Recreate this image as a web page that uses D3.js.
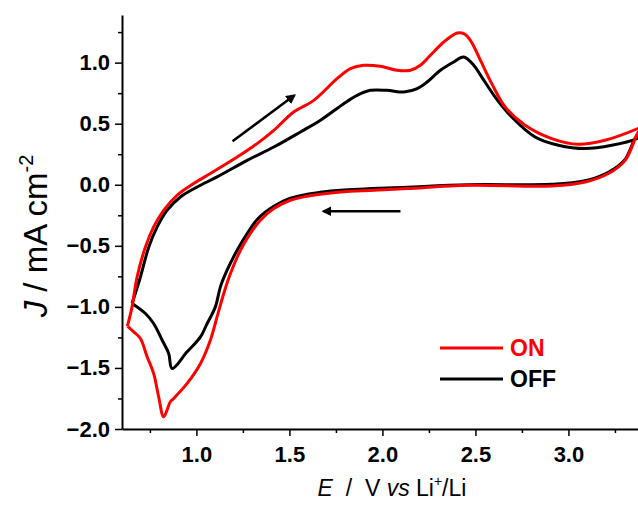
<!DOCTYPE html>
<html><head><meta charset="utf-8">
<script src="https://cdn.jsdelivr.net/npm/d3@7"></script>
<style>
body{margin:0;background:#fff;}
svg{display:block;font-family:"Liberation Sans",Arial,sans-serif;}
</style></head>
<body><svg id="c" width="638" height="506"></svg>
<script>
// ---- data (E in V vs Li+/Li, J in mA cm^-2), in scan order ----
const onE = [0.629,0.654,0.681,0.726,0.770,0.824,0.896,0.985,1.075,1.219,1.326,1.416,1.523,1.631,1.756,1.828,1.899,1.989,2.079,2.151,2.204,2.258,2.330,2.402,2.437,2.473,2.527,2.588,2.660,2.767,2.910,3.054,3.197,3.373,3.400,
  3.371,3.305,3.215,3.090,2.910,2.462,2.133,1.953,1.774,1.595,1.505,1.416,1.344,1.290,1.237,1.183,1.147,1.111,1.075,1.022,0.950,0.878,0.860,0.824,0.797,0.770,0.735,0.699,0.663,0.629];
const onJ = [-1.158,-1.000,-0.755,-0.509,-0.345,-0.209,-0.086,0.010,0.092,0.227,0.337,0.446,0.596,0.691,0.869,0.951,0.978,0.970,0.937,0.937,0.978,1.060,1.169,1.242,1.237,1.183,1.019,0.828,0.637,0.487,0.378,0.331,0.364,0.460,0.480,
  0.419,0.200,0.092,0.023,-0.010,-0.004,-0.031,-0.045,-0.059,-0.094,-0.127,-0.195,-0.291,-0.399,-0.536,-0.727,-0.890,-1.082,-1.273,-1.463,-1.627,-1.750,-1.777,-1.900,-1.736,-1.545,-1.409,-1.259,-1.205,-1.158];
const offE = [0.654,0.699,0.744,0.789,0.842,0.914,1.004,1.111,1.273,1.416,1.559,1.667,1.792,1.864,1.935,2.025,2.115,2.187,2.240,2.312,2.383,2.437,2.491,2.534,2.606,2.695,2.821,2.946,3.090,3.233,3.367,3.400,
  3.371,3.301,3.215,3.090,2.909,2.462,2.133,1.774,1.595,1.505,1.416,1.333,1.273,1.219,1.165,1.129,1.102,1.058,1.022,0.950,0.869,0.851,0.816,0.770,0.726,0.654];
const offJ = [-0.972,-0.755,-0.509,-0.345,-0.209,-0.100,-0.018,0.064,0.200,0.309,0.432,0.528,0.664,0.732,0.773,0.773,0.759,0.787,0.841,0.937,1.005,1.046,0.978,0.882,0.718,0.555,0.391,0.323,0.296,0.323,0.378,0.410,
  0.405,0.200,0.102,0.033,0.004,0.000,-0.020,-0.045,-0.078,-0.110,-0.176,-0.274,-0.399,-0.536,-0.700,-0.836,-1.000,-1.136,-1.245,-1.368,-1.504,-1.381,-1.273,-1.136,-1.054,-0.972];
const seriesNames = ["ON","OFF"];
const seriesColors = ["#ff0000","#000000"];
const xTicks = [1.0,1.5,2.0,2.5,3.0];
const xMinor = [0.75,1.25,1.75,2.25,2.75,3.25];
const yTicks = [-2.0,-1.5,-1.0,-0.5,0.0,0.5,1.0];
const yMinor = [-1.75,-1.25,-0.75,-0.25,0.25,0.75,1.25];
// scan direction arrows [E1,J1,E2,J2]
const arrowFwd = [1.194,0.356,1.527,0.732];
const arrowRev = [2.097,-0.217,1.683,-0.217];

const svg = d3.select("#c");
const x = d3.scaleLinear().domain([0.6,3.374]).range([122,638]);
const y = d3.scaleLinear().domain([-2.0,1.39]).range([429,15]);

const defs = svg.append("defs");
defs.append("clipPath").attr("id","clip").append("rect")
  .attr("x",122).attr("y",0).attr("width",516).attr("height",430);
defs.append("marker").attr("id","ah").attr("viewBox","0 0 10 10")
  .attr("refX",8).attr("refY",5).attr("markerWidth",4).attr("markerHeight",4)
  .attr("orient","auto").attr("markerUnits","strokeWidth")
  .append("path").attr("d","M0,0 L10,5 L0,10 z").attr("fill","#000");

const line = d3.line().x(d=>x(d[0])).y(d=>y(d[1])).curve(d3.curveCatmullRom.alpha(0.5));
const series = [onE.map((e,i)=>[e,onJ[i]]), offE.map((e,i)=>[e,offJ[i]])];

const g = svg.append("g").attr("clip-path","url(#clip)");
[1,0].forEach(k=>{
  g.append("path").datum(series[k]).attr("d",line)
    .attr("fill","none").attr("stroke",seriesColors[k]).attr("stroke-width",3)
    .attr("stroke-linejoin","round");
});

// axes
const fmt = d3.format(".1f");
svg.append("g").attr("transform","translate(0,429)")
  .call(d3.axisBottom(x).tickValues(xTicks).tickFormat(fmt).tickSize(7).tickSizeOuter(0).tickPadding(10));
svg.append("g").attr("transform","translate(0,429)")
  .call(d3.axisBottom(x).tickValues(xMinor).tickFormat("").tickSize(4).tickSizeOuter(0))
  .select(".domain").remove();
svg.append("g").attr("transform","translate(122,0)")
  .call(d3.axisLeft(y).tickValues(yTicks).tickFormat(fmt).tickSize(7).tickSizeOuter(0).tickPadding(5));
svg.append("g").attr("transform","translate(122,0)")
  .call(d3.axisLeft(y).tickValues(yMinor).tickFormat("").tickSize(4).tickSizeOuter(0))
  .select(".domain").remove();
svg.selectAll(".domain").attr("stroke","#000").attr("stroke-width",2);
svg.selectAll(".tick line").attr("stroke","#000").attr("stroke-width",1.5);
svg.selectAll(".tick text").attr("font-family","Liberation Sans, Arial, sans-serif")
  .attr("font-size",22).attr("font-weight","bold").attr("fill","#000");

// arrows
[arrowFwd,arrowRev].forEach(a=>{
  svg.append("line").attr("x1",x(a[0])).attr("y1",y(a[1])).attr("x2",x(a[2])).attr("y2",y(a[3]))
    .attr("stroke","#000").attr("stroke-width",2.5).attr("marker-end","url(#ah)");
});

// legend
const lg = svg.append("g");
seriesNames.forEach((n,i)=>{
  const yy = 348 + i*31;
  lg.append("line").attr("x1",440).attr("x2",503).attr("y1",yy).attr("y2",yy)
    .attr("stroke",seriesColors[i]).attr("stroke-width",3);
  lg.append("text").attr("x",510).attr("y",yy+8).text(n)
    .attr("font-size",23).attr("font-weight","bold").attr("fill",seriesColors[i]);
});

// axis titles
const xt = svg.append("text").attr("x",392).attr("y",496).attr("text-anchor","middle")
  .attr("font-size",23).attr("fill","#000");
xt.append("tspan").attr("font-style","italic").text("E");
xt.append("tspan").text("\u00a0\u00a0/\u00a0\u00a0V ");
xt.append("tspan").attr("font-style","italic").text("vs");
xt.append("tspan").text(" Li");
xt.append("tspan").attr("font-size",14).attr("dy",-10).text("+");
xt.append("tspan").attr("dy",10).text("/Li");

const yt = svg.append("text").attr("transform","translate(47,236) rotate(-90)").attr("text-anchor","middle")
  .attr("font-size",33).attr("fill","#000");
yt.append("tspan").attr("font-style","italic").text("J");
yt.append("tspan").text(" / mA cm");
yt.append("tspan").attr("font-size",20).attr("dy",-14).text("-2");
</script></body></html>
